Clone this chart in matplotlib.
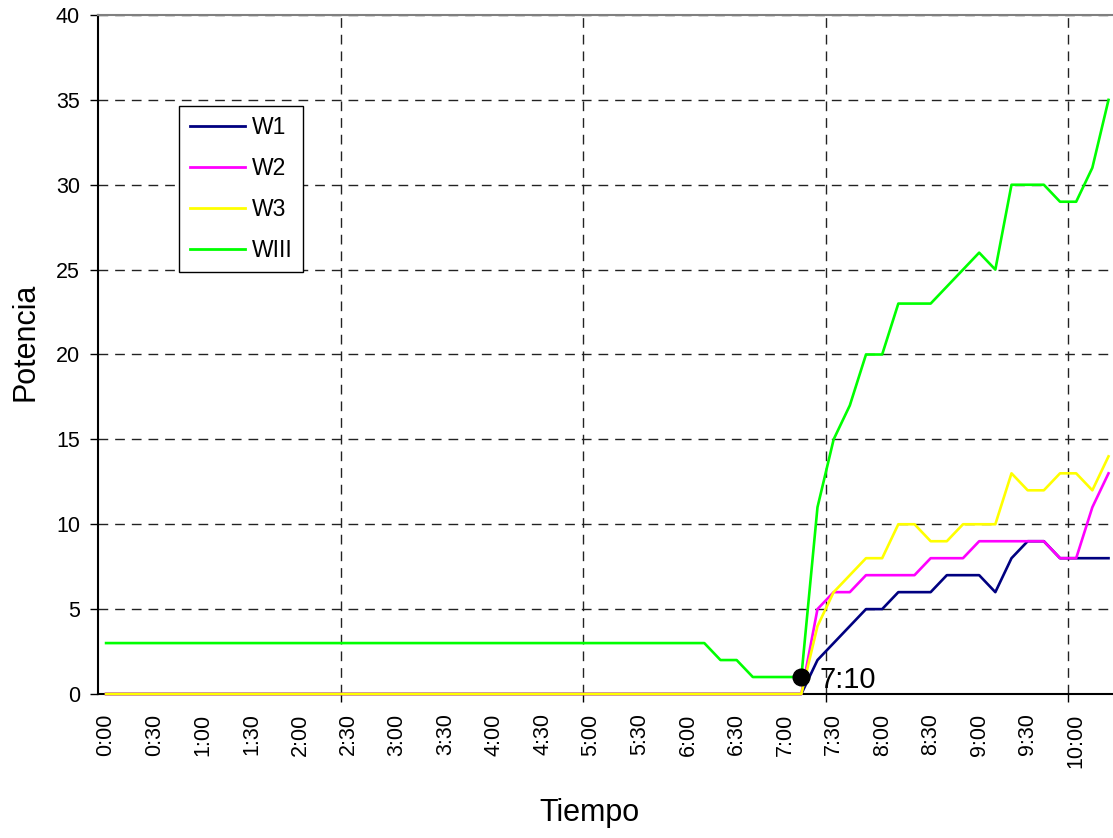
import matplotlib
matplotlib.use("Agg")
import matplotlib.pyplot as plt

plt.rcParams['font.family'] = ['Liberation Sans', 'DejaVu Sans']

# categorias cada 10 minutos, 0:00 .. 10:20
tiempos = [f"{m // 60}:{m % 60:02d}" for m in range(0, 630, 10)]

w1 = [0, 0, 0, 0, 0, 0, 0, 0, 0, 0, 0, 0, 0, 0, 0, 0, 0, 0, 0, 0, 0, 0,
      0, 0, 0, 0, 0, 0, 0, 0, 0, 0, 0, 0, 0, 0, 0, 0, 0, 0, 0, 0, 0, 0,
      2, 3, 4, 5, 5, 6, 6, 6, 7, 7, 7, 6, 8, 9, 9, 8, 8, 8, 8]
w2 = [0, 0, 0, 0, 0, 0, 0, 0, 0, 0, 0, 0, 0, 0, 0, 0, 0, 0, 0, 0, 0, 0,
      0, 0, 0, 0, 0, 0, 0, 0, 0, 0, 0, 0, 0, 0, 0, 0, 0, 0, 0, 0, 0, 0,
      5, 6, 6, 7, 7, 7, 7, 8, 8, 8, 9, 9, 9, 9, 9, 8, 8, 11, 13]
w3 = [0, 0, 0, 0, 0, 0, 0, 0, 0, 0, 0, 0, 0, 0, 0, 0, 0, 0, 0, 0, 0, 0,
      0, 0, 0, 0, 0, 0, 0, 0, 0, 0, 0, 0, 0, 0, 0, 0, 0, 0, 0, 0, 0, 0,
      4, 6, 7, 8, 8, 10, 10, 9, 9, 10, 10, 10, 13, 12, 12, 13, 13, 12, 14]
wiii = [3, 3, 3, 3, 3, 3, 3, 3, 3, 3, 3, 3, 3, 3, 3, 3, 3, 3, 3, 3, 3, 3,
        3, 3, 3, 3, 3, 3, 3, 3, 3, 3, 3, 3, 3, 3, 3, 3, 2, 2, 1, 1, 1, 1,
        11, 15, 17, 20, 20, 23, 23, 23, 24, 25, 26, 25, 30, 30, 30, 29, 29, 31, 35]

series = [("W1", w1, "#000080"), ("W2", w2, "#ff00ff"),
          ("W3", w3, "#ffff00"), ("WIII", wiii, "#00ff00")]

marca = 43  # 7:10

fig = plt.figure(figsize=(11.13, 8.38), dpi=100)
ax = fig.add_axes([0.08805, 0.17184, 0.91518, 0.81026])

x = list(range(len(tiempos)))
for nombre, vals, col in series:
    ax.plot(x, vals, color=col, lw=1.9, label=nombre, zorder=3, clip_on=False)

ax.plot(marca, wiii[marca], 'o', color='black', ms=12, zorder=5)
ax.annotate(tiempos[marca], (marca, wiii[marca]), xytext=(13, -8),
            textcoords='offset points', ha='left', va='baseline', fontsize=21, zorder=6)

ax.set_xlim(-0.5, len(tiempos) - 0.5)
ax.set_ylim(0, 40)

ax.set_xticks(x[::3])
ax.set_xticklabels(tiempos[::3], rotation=90, fontsize=15.5)
ax.set_xticks([14.5, 29.5, 44.5, 59.5], minor=True)
ax.tick_params(axis='x', which='major', length=0, pad=14)
ax.tick_params(axis='x', which='minor', length=6, width=1, direction='out')
ax.set_yticks(range(0, 41, 5))
ax.tick_params(axis='y', length=6, width=1, direction='out', labelsize=15.5, pad=7)

ax.xaxis.grid(True, which='minor', color='#222222', lw=1, linestyle=(0, (7, 5)))
ax.yaxis.grid(True, which='major', color='#222222', lw=1, linestyle=(0, (7, 5)))
ax.set_axisbelow(True)

ax.spines['left'].set_linewidth(1.5)
ax.spines['bottom'].set_linewidth(1.5)
ax.spines['bottom'].set_zorder(2)
ax.spines['top'].set_color('#808080')
ax.spines['top'].set_linewidth(1.5)
ax.spines['right'].set_visible(False)

leg = ax.legend(loc='upper left', bbox_to_anchor=(0.0798, 0.8664), borderaxespad=0,
                fontsize=16.5, frameon=True, fancybox=False, edgecolor='black',
                framealpha=1, handlelength=2.4, handletextpad=0.3,
                labelspacing=0.78, borderpad=0.45)
leg.get_frame().set_linewidth(1)
for l in leg.get_lines():
    l.set_linewidth(2)

fig.text(589 / 1113, 1 - 813 / 838, "Tiempo", ha='center', va='center', fontsize=22)
fig.text(25 / 1113, 1 - 342 / 838, "Potencia", ha='center', va='center',
         rotation=90, fontsize=22)

fig.savefig("out.png", dpi=100)
